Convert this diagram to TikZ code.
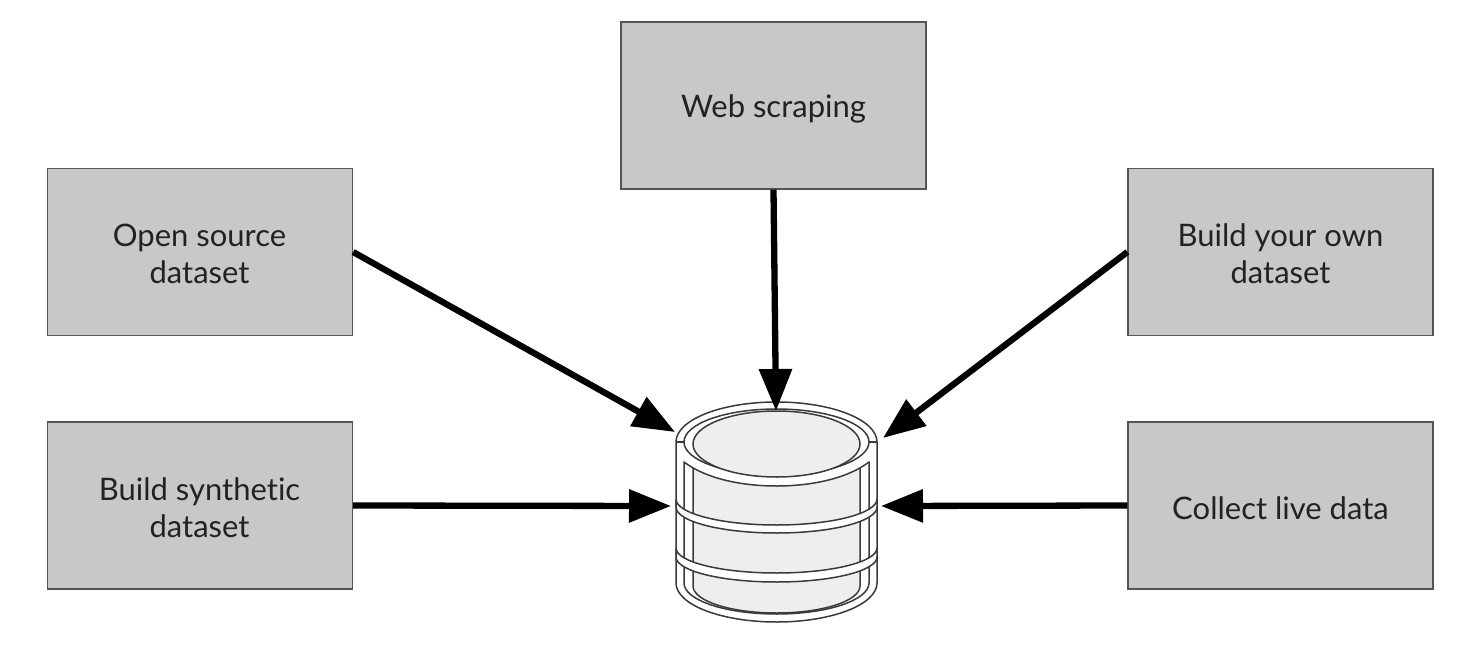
\documentclass[tikz,border=0pt]{standalone}
\usepackage{fontspec}
\setmainfont[Ligatures=NoCommon]{Lato}
\usetikzlibrary{arrows.meta}
\definecolor{boxfill}{HTML}{C8C8C8}
\definecolor{boxline}{HTML}{555555}
\definecolor{dbfill}{HTML}{EEEEEE}
\definecolor{dbline}{HTML}{3A3A3A}
\definecolor{txt}{HTML}{222222}
\tikzset{
  x=1pt,y=-1pt,
  srcbox/.style={draw=boxline,line width=1.3pt,fill=boxfill,minimum width=305pt,minimum height=167pt,inner sep=0pt},
  lbl/.style={align=center,text=txt,font=\fontsize{31}{37}\selectfont,inner sep=0pt},
  feed/.style={line width=6.3pt,black,-{Triangle[length=42pt,width=32pt]}},
  ring/.style={draw=dbline,line width=1.5pt,fill=white},
  cell/.style={draw=dbline,line width=1.5pt,fill=dbfill},
  edge line/.style={draw=dbline,line width=1.5pt}
}
\begin{document}
\begin{tikzpicture}
\useasboundingbox (0,0) rectangle (1472,650);
\fill[white] (0,0) rectangle (1472,650);
\node[srcbox] (web) at (773.5,105.5) {};
\node[srcbox] (open) at (200,252) {};
\node[srcbox] (own) at (1280.5,252) {};
\node[srcbox] (syn) at (200,505.5) {};
\node[srcbox] (live) at (1280.5,505.5) {};
\node[lbl] (webt) at (773.5,109) {Web scraping};
\node[lbl] (opent) at (199.5,254) {Open source\\dataset};
\node[lbl] (ownt) at (1280.5,254) {Build your own\\dataset};
\node[lbl] (synt) at (199.5,507.5) {Build synthetic\\dataset};
\node[lbl] (livet) at (1280.5,508) {Collect live data};
% database: outer shell
\path[ring] (676,442) arc[x radius=100.5,y radius=40,start angle=180,end angle=360] -- (877,583)
  arc[x radius=100.5,y radius=39,start angle=0,end angle=180] -- cycle;
% second shell, lower part
\path[ring] (684,583) -- (684,462) -- (869,462) -- (869,583)
  arc[x radius=92.5,y radius=31,start angle=0,end angle=180];
% inner body
\path[cell] (693,462) -- (693,586) arc[x radius=83.5,y radius=27,start angle=180,end angle=0] -- (860,462) -- cycle;
% band under the lid
\fill[white] (684,462) .. controls (705,478) and (740,486) .. (776.5,486)
  .. controls (813,486) and (848,478) .. (869,462) -- (869,440) -- (684,440) -- cycle;
\draw[edge line] (684,462) .. controls (705,478) and (740,486) .. (776.5,486)
  .. controls (813,486) and (848,478) .. (869,462);
% lower bands
\path[ring] (676,499) arc[x radius=100.5,y radius=26,start angle=180,end angle=0]
  -- (877,507) arc[x radius=100.5,y radius=26,start angle=0,end angle=180] -- cycle;
\path[ring] (676,548) arc[x radius=100.5,y radius=25,start angle=180,end angle=0]
  -- (877,557) arc[x radius=100.5,y radius=25,start angle=0,end angle=180] -- cycle;
% lid
\path[ring] (776.5,442) ellipse[x radius=92.5,y radius=33];
\path[cell] (776.5,444) ellipse[x radius=83.5,y radius=33];
\draw[edge line] (676,442) -- (684,442) (869,442) -- (877,442);
\coordinate (inA) at (675,432);
\coordinate (inB) at (776,411);
\coordinate (inC) at (883,438);
\coordinate (inD) at (671,506);
\coordinate (inE) at (881,506);
\draw[feed] (open.east) -- (inA);
\draw[feed] (web.south) -- (inB);
\draw[feed] (own.west) -- (inC);
\draw[feed] (syn.east) -- (inD);
\draw[feed] (live.west) -- (inE);
\end{tikzpicture}
\end{document}
